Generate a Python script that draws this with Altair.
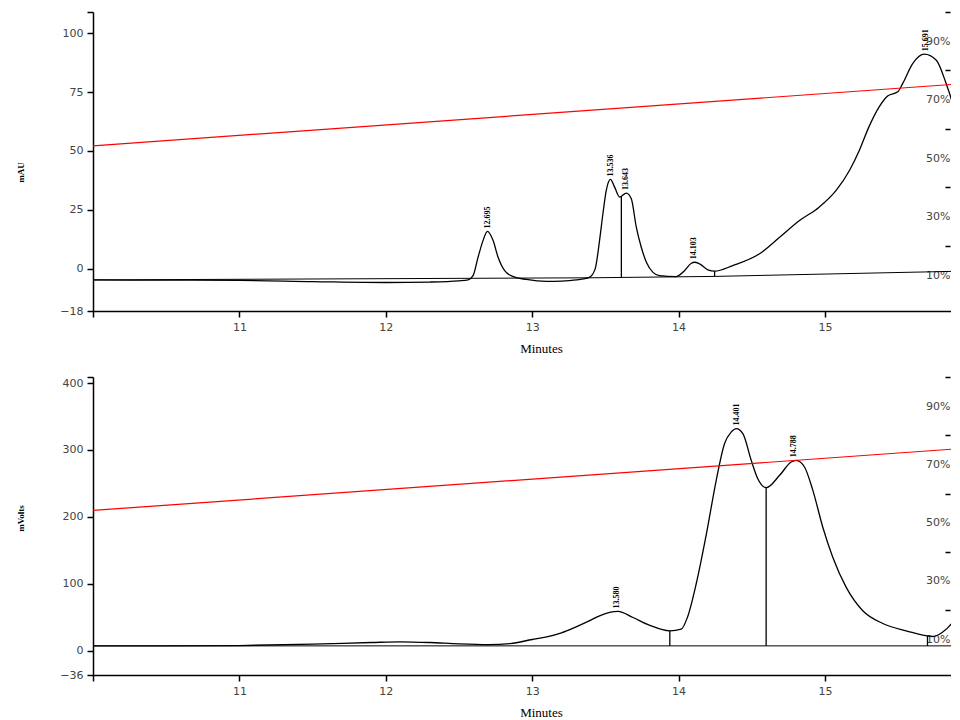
import altair as alt
import pandas as pd

W = 858
XMAX = 10 + W / 146.4

# ---------------- top panel (mAU) ----------------
top_t = [10.0, 10.5, 11.0, 11.5, 12.0, 12.3, 12.5, 12.562, 12.596, 12.63, 12.664, 12.694,
         12.733, 12.767, 12.812, 12.87, 12.96, 13.1, 13.2, 13.3, 13.39, 13.43, 13.46, 13.483,
         13.506, 13.534, 13.563, 13.597, 13.643, 13.677, 13.711, 13.745, 13.78, 13.825, 13.87,
         13.984, 14.04, 14.087, 14.109, 14.143, 14.2, 14.246, 14.37, 14.553, 14.69, 14.826,
         14.96, 15.076, 15.167, 15.235, 15.30, 15.37, 15.43, 15.497, 15.531, 15.60, 15.679,
         15.759, 15.827, 15.884, 15.918]
top_v = [-4.8, -4.9, -5.0, -5.5, -5.9, -5.7, -5.2, -4.8, -3.0, 4.8, 11.9, 15.8,
         11.9, 4.8, -0.9, -3.4, -4.6, -5.4, -5.3, -4.8, -3.7, -0.1, 11.9, 23.3,
         33.2, 37.9, 34.6, 30.4, 32.1, 29.7, 17.6, 9.1, 2.7, -1.6, -3.0,
         -3.4, -0.9, 2.3, 2.7, 2.0, -0.5, -1.1, 1.3, 6.3, 13.3, 20.4,
         26.1, 33.2, 41.7, 50.3, 60.2, 68.7, 73.4, 75.1, 78.7, 87.2, 91.1,
         88.6, 78.7, 67.3, 57.4]
top_base_t = [10.0, 13.39, 14.25, 15.918]
top_base_v = [-4.8, -3.9, -3.3, -1.1]
top_peak_t = [12.695, 13.536, 13.643, 14.103, 15.691]
top_peak_v = [15.8, 37.9, 32.1, 2.7, 91.1]
top_peak_lbl = ["12.695", "13.536", "13.643", "14.103", "15.691"]
top_drop_t = [13.609, 14.246]
top_drop_v = [30.7, -1.1]
top_drop_b = [-3.8, -3.3]

# ---------------- bottom panel (mVolts) ----------------
bot_t = [10.0, 10.5, 11.0, 11.5, 11.9, 12.1, 12.3, 12.5, 12.7, 12.85, 13.0, 13.1, 13.2,
         13.3, 13.4, 13.46, 13.586, 13.688, 13.80, 13.94, 14.018, 14.06, 14.12, 14.19,
         14.257, 14.314, 14.36, 14.394, 14.439, 14.496, 14.541, 14.598, 14.69, 14.769,
         14.803, 14.86, 14.917, 14.985, 15.053, 15.145, 15.258, 15.395, 15.554, 15.736,
         15.80, 15.87, 15.918]
bot_v = [7.5, 7.5, 8.0, 10.0, 12.5, 13.5, 12.5, 10.5, 9.5, 11.0, 17.0, 21.0, 27.0,
         36.0, 46.0, 52.4, 58.9, 49.9, 38.5, 30.0, 32.5, 49.9, 99.9, 174.8,
         254.7, 309.6, 327.0, 332.0, 324.6, 284.6, 257.0, 243.7, 262.2, 282.1,
         284.6, 274.6, 239.7, 184.7, 139.8, 94.8, 59.9, 40.9, 30.0, 21.5,
         27.5, 42.5, 62.0]
bot_base_t = [10.0, 15.918]
bot_base_v = [7.5, 7.5]
bot_peak_t = [13.580, 14.401, 14.788]
bot_peak_v = [58.9, 332.0, 284.6]
bot_peak_lbl = ["13.580", "14.401", "14.788"]
bot_drop_t = [13.94, 14.598, 15.70]
bot_drop_v = [30.0, 243.7, 22.5]
bot_drop_b = [7.5, 7.5, 7.5]

# gradient (%B) line, drawn on the right-hand percent axis
grad_t = [10.0, 15.918]
grad_pct = [54.2, 75.4]

x_ticks = [10, 11, 12, 13, 14, 15]
top_y_ticks = [-18, 0, 25, 50, 75, 100, 109]
bot_y_ticks = [-36, 0, 100, 200, 300, 400, 409]
pct_ticks = [10, 20, 30, 40, 50, 60, 70, 80, 90, 100]

LABEL_FONT = "DejaVu Sans"
SERIF = "Liberation Serif"


def panel(sig_t, sig_v, base_t, base_v, pk_t, pk_v, pk_l, dr_t, dr_v, dr_b,
          ydom, yticks, ytitle, h, title_y):
    xs = alt.Scale(domain=[10, XMAX], nice=False, zero=False)
    ys = alt.Scale(domain=ydom, nice=False, zero=False)
    xax = alt.Axis(values=x_ticks, format="d",
                   labelExpr="datum.value == 10 ? '' : datum.label",
                   title="Minutes", titleX=448, titleY=31, titleBaseline="top",
                   titleFont=SERIF, titleFontSize=13, titleFontWeight="normal",
                   titleColor="black", grid=False)
    yax = alt.Axis(values=yticks, format="d",
                   labelExpr=f"datum.value == {ydom[1]} ? '' : datum.label",
                   title=ytitle, titleX=-73, titleY=title_y,
                   titleBaseline="middle", titleAlign="center", titleAngle=270,
                   titleFont=SERIF, titleFontSize=9, titleFontWeight="bold",
                   titleColor="black", grid=False)

    sig = alt.Chart(pd.DataFrame({"t": sig_t, "v": sig_v})).mark_line(
        color="black", strokeWidth=1.3, interpolate="monotone", clip=True
    ).encode(x=alt.X("t:Q", scale=xs, axis=xax), y=alt.Y("v:Q", scale=ys, axis=yax))

    base = alt.Chart(pd.DataFrame({"t": base_t, "v": base_v})).mark_line(
        color="black", strokeWidth=1, clip=True
    ).encode(x=alt.X("t:Q", scale=xs), y=alt.Y("v:Q", scale=ys))

    drops = alt.Chart(pd.DataFrame({"t": dr_t, "v": dr_v, "b": dr_b})).mark_rule(
        color="black", strokeWidth=1.3, clip=True
    ).encode(x=alt.X("t:Q", scale=xs), y=alt.Y("v:Q", scale=ys), y2="b:Q")

    labels = alt.Chart(pd.DataFrame({"t": pk_t, "v": pk_v, "l": pk_l})).mark_text(
        angle=270, align="left", baseline="middle", dx=3, font=SERIF, fontSize=8,
        fontWeight="bold", color="black"
    ).encode(x=alt.X("t:Q", scale=xs), y=alt.Y("v:Q", scale=ys), text="l:N")

    left = alt.layer(sig, base, drops, labels)

    pax = alt.Axis(orient="right", values=pct_ticks,
                   labelExpr="datum.value % 20 == 10 ? datum.value + '%' : ''",
                   tickOpacity={"condition": {"test": "datum.value % 20 == 0", "value": 1},
                                "value": 0},
                   domain=False, offset=-6, tickSize=5, labelAlign="right",
                   labelPadding=0, title=None, grid=False)
    grad = alt.Chart(pd.DataFrame({"t": grad_t, "p": grad_pct})).mark_line(
        color="#ff0000", strokeWidth=1.2, clip=True
    ).encode(x=alt.X("t:Q", scale=xs),
             y=alt.Y("p:Q", scale=alt.Scale(domain=[-2.3, 100], nice=False, zero=False),
                     axis=pax))

    return alt.layer(left, grad).resolve_scale(y="independent").properties(
        width=W, height=h)


top = panel(top_t, top_v, top_base_t, top_base_v, top_peak_t, top_peak_v, top_peak_lbl,
            top_drop_t, top_drop_v, top_drop_b, [-18, 109], top_y_ticks, "mAU", 299, 160)
bottom = panel(bot_t, bot_v, bot_base_t, bot_base_v, bot_peak_t, bot_peak_v, bot_peak_lbl,
               bot_drop_t, bot_drop_v, bot_drop_b, [-36, 409], bot_y_ticks, "mVolts", 298, 141)

chart = alt.vconcat(top, bottom, spacing=21).properties(
    padding={"left": 8, "top": 3, "right": 0, "bottom": 0},
    background="white",
).configure_view(stroke=None).configure_axis(
    labelFont=LABEL_FONT, labelFontSize=11, labelColor="#444",
    domainColor="black", domainWidth=1.5, tickColor="black", tickWidth=1.5,
    tickSize=6, labelPadding=4,
)

chart.save("out.html", embed_options={"renderer": "svg", "actions": False})
